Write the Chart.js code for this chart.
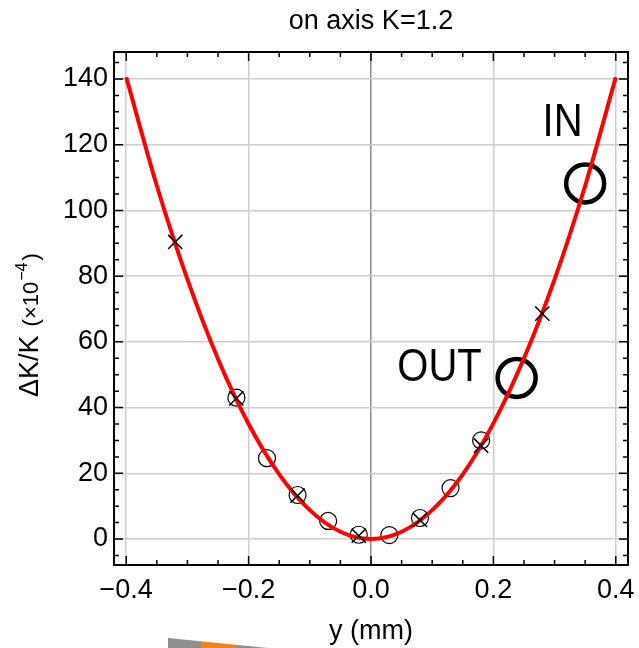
<!DOCTYPE html>
<html>
<head>
<meta charset="utf-8">
<script src="https://cdn.jsdelivr.net/npm/chart.js@4.4.0/dist/chart.umd.min.js"></script>
<style>
  html, body { margin: 0; padding: 0; background: #fff; }
  #wrap { position: relative; width: 639px; height: 648px; }
  #strip {
    position: absolute; left: 168px; top: 638px; width: 100px; height: 10px;
    background: linear-gradient(to right, #8e8e8e 0 34px, #f2821c 34px 68px, #8e8e8e 68px);
    clip-path: polygon(0 0, 100% 100%, 0 100%);
  }
</style>
</head>
<body>
<div id="wrap">
  <canvas id="c" width="639" height="648"></canvas>
  <div id="strip"></div>
</div>
<script>
// fitted curve
const curveX = [-0.40, -0.35, -0.30, -0.25, -0.20, -0.15, -0.10, -0.05, 0.00, 0.05, 0.10, 0.15, 0.20, 0.25, 0.30, 0.35, 0.40];
const curveY = [140.5, 107.5, 79.0, 54.8, 35.0, 19.7, 8.8, 2.2, 0.0, 2.2, 8.8, 19.7, 35.2, 55.0, 79.0, 107.5, 140.5];

// open circle measurements
const circX = [-0.22, -0.17, -0.12, -0.07, -0.02, 0.03, 0.08, 0.13, 0.18];
const circY = [43.0, 24.6, 13.4, 5.5, 1.3, 1.2, 6.4, 15.5, 30.0];

// cross measurements
const crossX = [-0.32, -0.22, -0.12, -0.02, 0.08, 0.18, 0.28];
const crossY = [90.4, 42.8, 13.2, 1.0, 5.8, 28.4, 68.6];

// marked positions
const markLabels = ['IN', 'OUT'];
const markX = [0.35, 0.238];
const markY = [108.2, 49.0];
const markTextX = [0.313, 0.112];
const markTextY = [126.4, 52.0];

const xTicks = [-0.4, -0.2, 0, 0.2, 0.4];
const yTicks = [0, 20, 40, 60, 80, 100, 120, 140];

const FONT = '"Liberation Sans", Arial, Helvetica, sans-serif';
Chart.defaults.font.family = FONT;
Chart.defaults.color = '#000';

const pts = (xs, ys) => xs.map((x, i) => ({ x, y: ys[i] }));

const framePlugin = {
  id: 'frame',
  afterDatasetsDraw(chart) {
    const ctx = chart.ctx;
    const { left, right, top, bottom } = chart.chartArea;
    const xs = chart.scales.x, ys = chart.scales.y;
    ctx.save();
    // IN / OUT labels
    ctx.fillStyle = '#000';
    ctx.font = '40px ' + FONT;
    ctx.textAlign = 'center';
    ctx.textBaseline = 'middle';
    markLabels.forEach((t, i) => {
      const px = xs.getPixelForValue(markTextX[i]), py = ys.getPixelForValue(markTextY[i]);
      ctx.save();
      ctx.translate(px, py);
      ctx.scale(1, 1.15);
      ctx.fillText(t, 0, 0);
      ctx.restore();
    });
    // frame
    ctx.strokeStyle = '#000';
    ctx.lineWidth = 2;
    ctx.strokeRect(left, top, right - left, bottom - top);
    // ticks inside, all four sides
    ctx.lineWidth = 1.5;
    ctx.beginPath();
    for (let k = -8; k <= 8; k++) {
      const v = k * 0.05;
      const len = (k % 4 === 0) ? 9 : 5;
      const p = xs.getPixelForValue(v);
      ctx.moveTo(p, bottom); ctx.lineTo(p, bottom - len);
      ctx.moveTo(p, top); ctx.lineTo(p, top + len);
    }
    for (let k = -1; k <= 29; k++) {
      const v = k * 5;
      const len = (k % 4 === 0) ? 9 : 5;
      const p = ys.getPixelForValue(v);
      ctx.moveTo(left, p); ctx.lineTo(left + len, p);
      ctx.moveTo(right, p); ctx.lineTo(right - len, p);
    }
    ctx.stroke();
    ctx.restore();
  },
  afterDraw(chart) {
    const ctx = chart.ctx;
    const { left, right } = chart.chartArea;
    ctx.save();
    ctx.fillStyle = '#000';
    // title
    ctx.font = '27px ' + FONT;
    ctx.textAlign = 'center';
    ctx.textBaseline = 'middle';
    ctx.fillText('on axis K=1.2', (left + right) / 2, 22);
    // y axis title with superscript
    ctx.translate(38, 397);
    ctx.rotate(-Math.PI / 2);
    ctx.textAlign = 'left';
    ctx.textBaseline = 'alphabetic';
    let x = 0;
    ctx.font = '27px ' + FONT;
    ctx.fillText('\u0394K/K', x, 0);
    x += ctx.measureText('\u0394K/K').width + 9;
    ctx.font = '22px ' + FONT;
    ctx.fillText('(\u00d710', x, 0);
    x += ctx.measureText('(\u00d710').width + 1;
    ctx.font = '16px ' + FONT;
    ctx.fillText('\u22124', x, -11);
    x += ctx.measureText('\u22124').width + 2;
    ctx.font = '22px ' + FONT;
    ctx.fillText(')', x, 0);
    ctx.restore();
  }
};

new Chart(document.getElementById('c'), {
  type: 'scatter',
  data: {
    datasets: [
      {
        label: 'fit',
        data: pts(curveX, curveY),
        showLine: true,
        borderColor: '#ff0000',
        borderWidth: 4,
        pointRadius: 0,
        cubicInterpolationMode: 'monotone',
        order: 2
      },
      {
        label: 'circles',
        data: pts(circX, circY),
        pointStyle: 'circle',
        pointRadius: 8.5,
        borderColor: '#000',
        backgroundColor: 'rgba(0,0,0,0)',
        borderWidth: 1.2,
        order: 4
      },
      {
        label: 'crosses',
        data: pts(crossX, crossY),
        pointStyle: 'crossRot',
        pointRadius: 10,
        borderColor: '#000',
        borderWidth: 1.5,
        order: 1
      },
      {
        label: 'marks',
        data: pts(markX, markY),
        pointStyle: 'circle',
        pointRadius: 19,
        borderColor: '#000',
        backgroundColor: 'rgba(0,0,0,0)',
        borderWidth: 4.5,
        order: 3
      }
    ]
  },
  options: {
    responsive: false,
    animation: false,
    events: [],
    layout: { autoPadding: false, padding: { top: 52, right: 11, left: 0, bottom: 0 } },
    plugins: { legend: { display: false }, tooltip: { enabled: false } },
    scales: {
      x: {
        type: 'linear',
        min: -0.42,
        max: 0.42,
        afterBuildTicks: s => { s.ticks = xTicks.map(v => ({ value: v })); },
        afterFit: s => { s.height = 83; s.paddingLeft = 0; s.paddingRight = 0; },
        border: { display: false },
        grid: {
          drawTicks: false,
          lineWidth: 1.5,
          color: c => (c.tick && c.tick.value === 0) ? '#8c8c8c' : '#cdcdcd'
        },
        ticks: {
          padding: 9,
          maxRotation: 0,
          font: { size: 27 },
          callback: v => (v < 0 ? '\u2212' : '') + Math.abs(v).toFixed(1)
        },
        title: { display: true, text: 'y (mm)', font: { size: 27 }, padding: { top: 0, bottom: 0 } }
      },
      y: {
        type: 'linear',
        min: -7.9,
        max: 148.2,
        afterBuildTicks: s => { s.ticks = yTicks.map(v => ({ value: v })); },
        afterFit: s => { s.width = 114; s.paddingTop = 0; s.paddingBottom = 0; },
        border: { display: false },
        grid: { drawTicks: false, lineWidth: 1.5, color: '#cdcdcd' },
        ticks: { padding: 6, font: { size: 27 }, callback: v => String(v) }
      }
    }
  },
  plugins: [framePlugin]
});
</script>
</body>
</html>
